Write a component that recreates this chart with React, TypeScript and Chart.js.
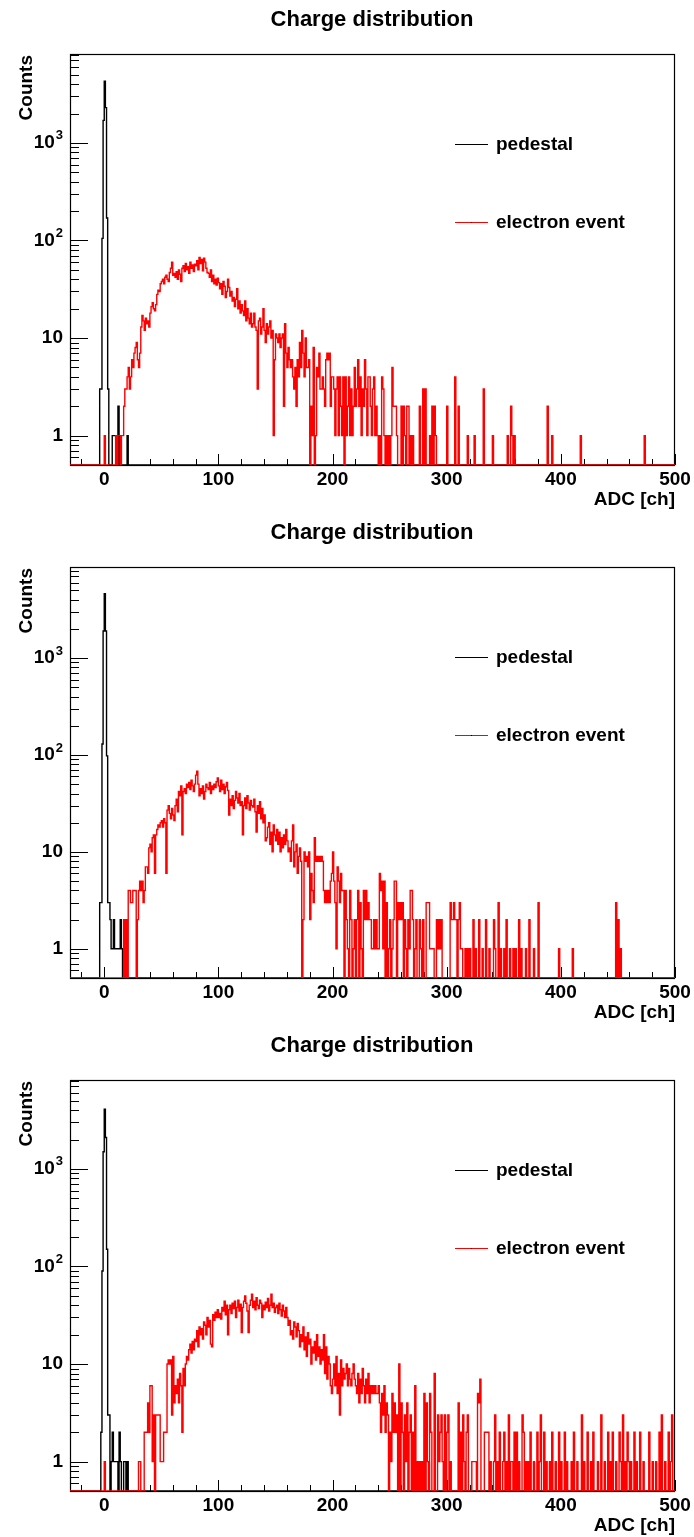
import React, { useEffect, useRef } from 'react';
import { Chart, registerables } from 'chart.js';

Chart.register(...registerables);

const X_MIN = -30;
const X_MAX = 500;
const Y_MIN = 0.5;

const TITLE = 'Charge distribution';
const X_TITLE = 'ADC [ch]';
const Y_TITLE = 'Counts';
const LEGEND_LABELS = ['pedestal', 'electron event'];
const X_TICK_LABELS = [0, 100, 200, 300, 400, 500];
const Y_TICK_EXPONENTS = [0, 1, 2, 3];

// pedestal histograms: bins of 1 ADC starting at ADC -5
const PED_START = -5;
const pedestal1 = [0, 3, 3, 105, 1700, 4300, 2300, 170, 3, 0, 0, 0, 1, 1, 1, 0, 0, 2, 0, 1, 0, 0, 0, 0, 0, 1, 0, 0, 0, 0];
const pedestal2 = [0, 3, 3, 130, 1900, 4600, 1900, 98, 3, 3, 2, 1, 1, 2, 1, 1, 1, 1, 1, 2, 1, 0, 0, 0, 0, 0, 0, 0, 0, 0];
const pedestal3 = [0, 0, 2, 90, 1500, 4100, 2100, 150, 3, 3, 0, 1, 2, 1, 1, 1, 1, 0, 2, 1, 0, 0, 1, 1, 0, 1, 0, 0, 0, 0];

// electron histograms: bins of 1 ADC starting at ADC 0
const ELE_START = 0;
const electron1 = [
  1, 0, 0, 0, 0, 0, 0, 0, 0, 0, 1, 0, 1, 1, 0, 1, 1, 2, 3, 3,
  4, 5, 3, 4, 6, 5, 7, 8, 9, 6, 5, 7, 13, 17, 15, 12, 16, 14, 15, 13,
  18, 21, 23, 20, 19, 22, 28, 31, 30, 36, 38, 40, 36, 42, 44, 40, 38, 47, 52, 60,
  44, 46, 42, 48, 40, 50, 45, 38, 52, 55, 48, 58, 50, 54, 46, 60, 52, 56, 48, 57,
  55, 62, 50, 67, 58, 64, 49, 66, 60, 52, 47, 46, 42, 50, 38, 44, 36, 40, 35, 41,
  37, 32, 36, 28, 38, 34, 26, 30, 40, 33, 27, 30, 24, 26, 21, 25, 32, 20, 24, 18,
  22, 19, 17, 24, 15, 20, 16, 14, 18, 13, 14, 18, 13, 12, 3, 15, 16, 11, 13, 20,
  12, 9, 14, 11, 13, 15, 10, 12, 1, 6, 11, 10, 9, 11, 8, 10, 11, 2, 14, 7,
  5, 8, 6, 5, 6, 4, 3, 5, 2, 6, 4, 9, 5, 12, 7, 4, 10, 5, 5, 6,
  0, 2, 1, 8, 0, 1, 5, 4, 7, 3, 3, 4, 3, 2, 6, 7, 6, 7, 2, 4,
  4, 3, 1, 3, 4, 1, 4, 2, 1, 4, 0, 4, 1, 2, 4, 1, 3, 1, 2, 5,
  2, 3, 6, 2, 4, 1, 3, 2, 6, 3, 1, 4, 4, 2, 1, 3, 4, 1, 2, 1,
  0, 1, 0, 4, 3, 1, 0, 1, 0, 1, 0, 1, 5, 2, 2, 2, 1, 0, 0, 0,
  2, 0, 2, 1, 0, 2, 2, 0, 1, 0, 1, 0, 0, 0, 0, 0, 2, 0, 0, 3,
  0, 3, 0, 0, 0, 1, 0, 2, 0, 2, 1, 0, 0, 0, 0, 0, 0, 0, 0, 0,
  2, 0, 0, 0, 0, 0, 0, 4, 0, 0, 2, 0, 0, 0, 0, 0, 0, 0, 1, 0,
  0, 0, 0, 0, 1, 0, 0, 0, 0, 0, 0, 0, 3, 0, 0, 0, 0, 0, 0, 0,
  1, 0, 0, 0, 0, 0, 0, 0, 0, 0, 0, 0, 0, 1, 0, 0, 2, 1, 0, 1,
  0, 0, 0, 0, 0, 0, 0, 0, 0, 0, 0, 0, 0, 0, 0, 0, 0, 0, 0, 0,
  0, 0, 0, 0, 0, 0, 0, 0, 2, 0, 0, 0, 1, 0, 0, 0, 0, 0, 0, 0,
  0, 0, 0, 0, 0, 0, 0, 0, 0, 0, 0, 0, 0, 0, 0, 0, 0, 1, 0, 0,
  0, 0, 0, 0, 0, 0, 0, 0, 0, 0, 0, 0, 0, 0, 0, 0, 0, 0, 0, 0,
  0, 0, 0, 0, 0, 0, 0, 0, 0, 0, 0, 0, 0, 0, 0, 0, 0, 0, 0, 0,
  0, 0, 0, 0, 0, 0, 0, 0, 0, 0, 0, 0, 0, 1, 0, 0, 0, 0, 0, 0,
  0, 0, 0, 0, 0, 0, 0, 0, 0, 0, 0, 0, 0, 0, 0, 0, 0, 0, 0, 0,
];

const electron2 = [
  0, 0, 0, 0, 0, 0, 0, 0, 0, 0, 0, 0, 0, 0, 0, 0, 0, 2, 0, 2,
  0, 4, 4, 3, 3, 4, 4, 4, 0, 2, 4, 5, 4, 5, 3, 4, 7, 7, 6, 11,
  12, 10, 14, 15, 6, 15, 17, 19, 18, 20, 21, 18, 22, 20, 6, 27, 30, 25, 22, 28,
  24, 21, 30, 35, 26, 42, 38, 48, 15, 42, 45, 40, 50, 46, 52, 44, 55, 48, 42, 50,
  62, 68, 50, 38, 45, 40, 48, 35, 42, 50, 46, 44, 52, 40, 48, 44, 50, 46, 53, 58,
  48, 42, 55, 44, 50, 40, 47, 52, 43, 24, 35, 30, 38, 28, 34, 42, 36, 32, 40, 30,
  33, 15, 30, 36, 28, 38, 32, 27, 34, 30, 29, 35, 26, 16, 30, 25, 33, 22, 28, 20,
  24, 13, 14, 18, 20, 12, 16, 10, 19, 15, 13, 17, 12, 16, 10, 14, 11, 15, 12, 17,
  13, 10, 11, 8, 13, 19, 7, 10, 12, 6, 9, 11, 8, 0, 2, 10, 8, 9, 7, 10,
  2, 6, 4, 3, 14, 8, 9, 8, 9, 8, 9, 8, 4, 3, 4, 3, 4, 3, 5, 6,
  10, 5, 3, 1, 7, 5, 3, 6, 4, 4, 0, 4, 2, 1, 0, 4, 2, 0, 1, 2,
  0, 2, 4, 0, 3, 1, 0, 4, 2, 4, 2, 3, 2, 2, 1, 1, 2, 1, 2, 1,
  1, 6, 4, 5, 1, 5, 0, 3, 0, 1, 2, 0, 1, 2, 5, 5, 0, 3, 2, 3,
  2, 3, 0, 2, 1, 0, 2, 1, 4, 4, 2, 0, 1, 2, 0, 0, 2, 1, 0, 2,
  0, 0, 3, 3, 3, 1, 1, 1, 1, 0, 0, 2, 1, 2, 1, 2, 0, 0, 0, 0,
  0, 0, 0, 3, 2, 2, 3, 2, 2, 0, 2, 3, 1, 1, 0, 0, 1, 0, 1, 0,
  1, 0, 0, 2, 0, 1, 0, 0, 2, 0, 0, 1, 0, 0, 2, 0, 0, 1, 0, 0,
  0, 2, 1, 0, 0, 3, 0, 1, 0, 0, 1, 0, 2, 0, 0, 1, 0, 0, 1, 0,
  1, 0, 0, 2, 0, 1, 0, 0, 0, 1, 0, 0, 2, 0, 0, 0, 1, 0, 0, 0,
  3, 0, 0, 0, 0, 0, 0, 0, 0, 0, 0, 0, 0, 0, 0, 0, 0, 0, 1, 0,
  0, 0, 0, 0, 0, 0, 0, 0, 0, 0, 1, 0, 0, 0, 0, 0, 0, 0, 0, 0,
  0, 0, 0, 0, 0, 0, 0, 0, 0, 0, 0, 0, 0, 0, 0, 0, 0, 0, 0, 0,
  0, 0, 0, 0, 0, 0, 0, 0, 3, 0, 2, 0, 1, 0, 0, 0, 0, 0, 0, 0,
  0, 0, 0, 0, 0, 0, 0, 0, 0, 0, 0, 0, 0, 0, 0, 0, 0, 0, 0, 0,
  0, 0, 0, 0, 0, 0, 0, 0, 0, 0, 0, 0, 0, 0, 0, 0, 0, 0, 0, 0,
];

const electron3 = [
  1, 0, 0, 0, 0, 0, 0, 0, 0, 0, 0, 0, 0, 0, 0, 0, 0, 0, 0, 0,
  0, 0, 0, 0, 0, 0, 0, 0, 0, 0, 1, 1, 0, 0, 0, 2, 2, 2, 4, 2,
  6, 6, 1, 3, 0, 3, 3, 3, 3, 1, 1, 1, 2, 2, 2, 10, 11, 10, 11, 3,
  12, 4, 6, 5, 7, 4, 8, 6, 2, 9, 6, 10, 12, 11, 14, 16, 13, 17, 14, 18,
  17, 22, 15, 24, 20, 23, 18, 27, 25, 20, 30, 24, 28, 16, 15, 32, 28, 34, 30, 36,
  30, 33, 29, 38, 35, 44, 32, 40, 20, 36, 40, 33, 42, 37, 44, 30, 38, 45, 35, 41,
  21, 38, 44, 50, 42, 35, 21, 40, 45, 52, 38, 44, 36, 48, 40, 37, 45, 42, 30, 40,
  36, 43, 38, 47, 35, 40, 52, 38, 42, 34, 38, 40, 33, 42, 36, 31, 40, 35, 30, 38,
  30, 25, 28, 20, 22, 18, 27, 24, 19, 26, 22, 15, 20, 17, 24, 14, 19, 12, 21, 16,
  18, 10, 15, 13, 17, 11, 20, 12, 15, 10, 14, 11, 20, 8, 15, 7, 12, 10, 6, 5,
  7, 10, 6, 12, 5, 8, 3, 11, 6, 9, 7, 8, 10, 6, 9, 7, 6, 8, 10, 7,
  6, 5, 8, 4, 7, 5, 9, 6, 4, 7, 5, 8, 4, 6, 5, 6, 5, 6, 5, 5,
  6, 4, 2, 5, 3, 6, 2, 4, 3, 0, 2, 1, 5, 2, 4, 2, 3, 0, 10, 0,
  4, 2, 0, 3, 1, 4, 0, 2, 3, 0, 2, 0, 6, 0, 1, 0, 1, 0, 1, 0,
  5, 0, 4, 1, 0, 5, 2, 0, 0, 8, 0, 0, 3, 1, 2, 3, 1, 0, 3, 0,
  2, 3, 0, 1, 0, 0, 0, 0, 0, 0, 4, 0, 2, 0, 3, 1, 0, 2, 3, 0,
  0, 0, 1, 1, 1, 1, 0, 5, 4, 7, 0, 0, 0, 2, 2, 2, 2, 0, 1, 0,
  0, 1, 3, 0, 1, 0, 2, 0, 0, 1, 2, 0, 1, 0, 3, 0, 1, 1, 0, 2,
  0, 2, 0, 1, 0, 0, 3, 2, 0, 1, 0, 1, 0, 2, 0, 0, 1, 0, 0, 2,
  0, 1, 3, 0, 0, 2, 0, 1, 0, 0, 1, 0, 2, 0, 0, 1, 0, 0, 2, 0,
  1, 0, 0, 2, 0, 1, 0, 0, 0, 1, 0, 2, 0, 0, 1, 0, 0, 0, 3, 0,
  1, 0, 0, 2, 0, 0, 1, 0, 2, 0, 0, 0, 1, 0, 0, 3, 0, 0, 1, 0,
  0, 2, 0, 1, 0, 2, 0, 0, 1, 0, 0, 2, 1, 0, 3, 0, 1, 0, 2, 1,
  0, 1, 0, 0, 2, 0, 1, 0, 0, 2, 0, 0, 1, 0, 0, 0, 0, 2, 0, 0,
  1, 0, 0, 1, 0, 0, 2, 0, 3, 0, 0, 1, 0, 0, 2, 0, 1, 3, 0, 0,
];

const Y_MAXES = [8150, 8700, 8150];
const PANEL_HEIGHTS = [513, 513, 511];

const FONT = '"Liberation Sans", Arial, Helvetica, sans-serif';

function histPoints(start: number, counts: number[]) {
  const pts: { x: number; y: number }[] = [];
  if (start > X_MIN) pts.push({ x: X_MIN, y: Y_MIN });
  counts.forEach((c, i) => pts.push({ x: start + i, y: c > 0 ? c : Y_MIN }));
  const end = start + counts.length;
  pts.push({ x: end, y: Y_MIN });
  if (end < X_MAX) pts.push({ x: X_MAX, y: Y_MIN });
  return pts;
}

type PanelProps = {
  pedestal: number[];
  electron: number[];
  yMax: number;
  height: number;
};

function Panel({ pedestal, electron, yMax, height }: PanelProps) {
  const ref = useRef<HTMLCanvasElement | null>(null);

  useEffect(() => {
    const canvas = ref.current;
    if (!canvas) return;

    const deco = {
      id: 'rootDeco',
      beforeDatasetsDraw(chart: any) {
        const { ctx, chartArea: a, scales } = chart;
        const xs = scales.x;
        const ys = scales.y;
        ctx.save();
        ctx.strokeStyle = '#000';
        ctx.lineWidth = 1.2;
        ctx.strokeRect(a.left + 0.5, a.top + 0.5, a.right - a.left - 1, a.bottom - a.top);
        ctx.lineWidth = 1;
        // x ticks
        for (let v = -20; v <= X_MAX; v += 20) {
          const px = Math.round(xs.getPixelForValue(v)) + 0.5;
          const len = v % 100 === 0 ? 11 : 6;
          ctx.beginPath();
          ctx.moveTo(px, a.bottom);
          ctx.lineTo(px, a.bottom - len);
          ctx.stroke();
        }
        // y ticks
        for (let e = -1; e <= 4; e++) {
          for (let m = 1; m <= 9; m++) {
            const v = m * Math.pow(10, e);
            if (v < Y_MIN || v > yMax) continue;
            const py = Math.round(ys.getPixelForValue(v)) + 0.5;
            const len = m === 1 ? 18 : 9;
            ctx.beginPath();
            ctx.moveTo(a.left, py);
            ctx.lineTo(a.left + len, py);
            ctx.stroke();
          }
        }
        ctx.restore();
      },
      afterDraw(chart: any) {
        const { ctx, chartArea: a, scales } = chart;
        const xs = scales.x;
        const ys = scales.y;
        ctx.save();
        ctx.fillStyle = '#000';
        // title
        ctx.font = `bold 22px ${FONT}`;
        ctx.textAlign = 'center';
        ctx.textBaseline = 'alphabetic';
        ctx.fillText(TITLE, 372, 26);
        // x tick labels
        ctx.font = `bold 19px ${FONT}`;
        ctx.textAlign = 'center';
        X_TICK_LABELS.forEach((v) => {
          ctx.fillText(String(v), xs.getPixelForValue(v), a.bottom + 20);
        });
        // x title
        ctx.textAlign = 'right';
        ctx.fillText(X_TITLE, a.right, a.bottom + 40);
        // y tick labels
        Y_TICK_EXPONENTS.forEach((e) => {
          const py = ys.getPixelForValue(Math.pow(10, e));
          ctx.textBaseline = 'middle';
          if (e === 0) {
            ctx.font = `bold 19px ${FONT}`;
            ctx.textAlign = 'right';
            ctx.fillText('1', 63, py);
          } else if (e === 1) {
            ctx.font = `bold 19px ${FONT}`;
            ctx.textAlign = 'right';
            ctx.fillText('10', 63, py);
          } else {
            ctx.font = `bold 13px ${FONT}`;
            ctx.textAlign = 'right';
            ctx.fillText(String(e), 63, py - 7);
            const w = ctx.measureText(String(e)).width;
            ctx.font = `bold 19px ${FONT}`;
            ctx.fillText('10', 63 - w - 1, py);
          }
        });
        // y title
        ctx.save();
        ctx.translate(32, a.top + 1);
        ctx.rotate(-Math.PI / 2);
        ctx.font = `bold 19px ${FONT}`;
        ctx.textAlign = 'right';
        ctx.textBaseline = 'alphabetic';
        ctx.fillText(Y_TITLE, 0, 0);
        ctx.restore();
        // legend
        const legendY = [144, 222];
        const legendColors = ['#000000', '#ff0000'];
        legendY.forEach((ly, i) => {
          ctx.strokeStyle = legendColors[i];
          ctx.lineWidth = 1.2;
          ctx.beginPath();
          ctx.moveTo(455, ly + 0.5);
          ctx.lineTo(488, ly + 0.5);
          ctx.stroke();
          ctx.fillStyle = '#000';
          ctx.fillRect(471, ly, 1, 1);
          ctx.font = `bold 19px ${FONT}`;
          ctx.textAlign = 'left';
          ctx.textBaseline = 'middle';
          ctx.fillText(LEGEND_LABELS[i], 496, ly + 1);
        });
        ctx.restore();
      },
    };

    const chart = new Chart(canvas, {
      type: 'line',
      data: {
        datasets: [
          {
            label: LEGEND_LABELS[1],
            data: histPoints(ELE_START, electron),
            borderColor: '#ff0000',
            borderWidth: 1.4,
            stepped: true,
            fill: false,
            pointRadius: 0,
            order: 0,
          },
          {
            label: LEGEND_LABELS[0],
            data: histPoints(PED_START, pedestal),
            borderColor: '#000000',
            borderWidth: 1.4,
            stepped: true,
            fill: false,
            pointRadius: 0,
            order: 1,
          },
        ],
      },
      options: {
        animation: false,
        responsive: false,
        devicePixelRatio: 1,
        events: [],
        layout: { padding: { left: 70, right: 19, top: 54, bottom: height - 465 } },
        plugins: {
          legend: { display: false },
          title: { display: false },
          tooltip: { enabled: false },
        },
        scales: {
          x: { type: 'linear', min: X_MIN, max: X_MAX, display: false },
          y: { type: 'logarithmic', min: Y_MIN, max: yMax, display: false },
        },
      },
      plugins: [deco],
    } as any);

    return () => chart.destroy();
  }, [pedestal, electron, yMax, height]);

  return <canvas ref={ref} width={694} height={height} style={{ display: 'block', width: 694, height }} />;
}

export default function App() {
  const peds = [pedestal1, pedestal2, pedestal3];
  const eles = [electron1, electron2, electron3];
  return (
    <div style={{ position: 'absolute', left: 0, top: 0, width: 694, height: 1537, background: '#fff' }}>
      {peds.map((p, i) => (
        <Panel key={i} pedestal={p} electron={eles[i]} yMax={Y_MAXES[i]} height={PANEL_HEIGHTS[i]} />
      ))}
    </div>
  );
}
